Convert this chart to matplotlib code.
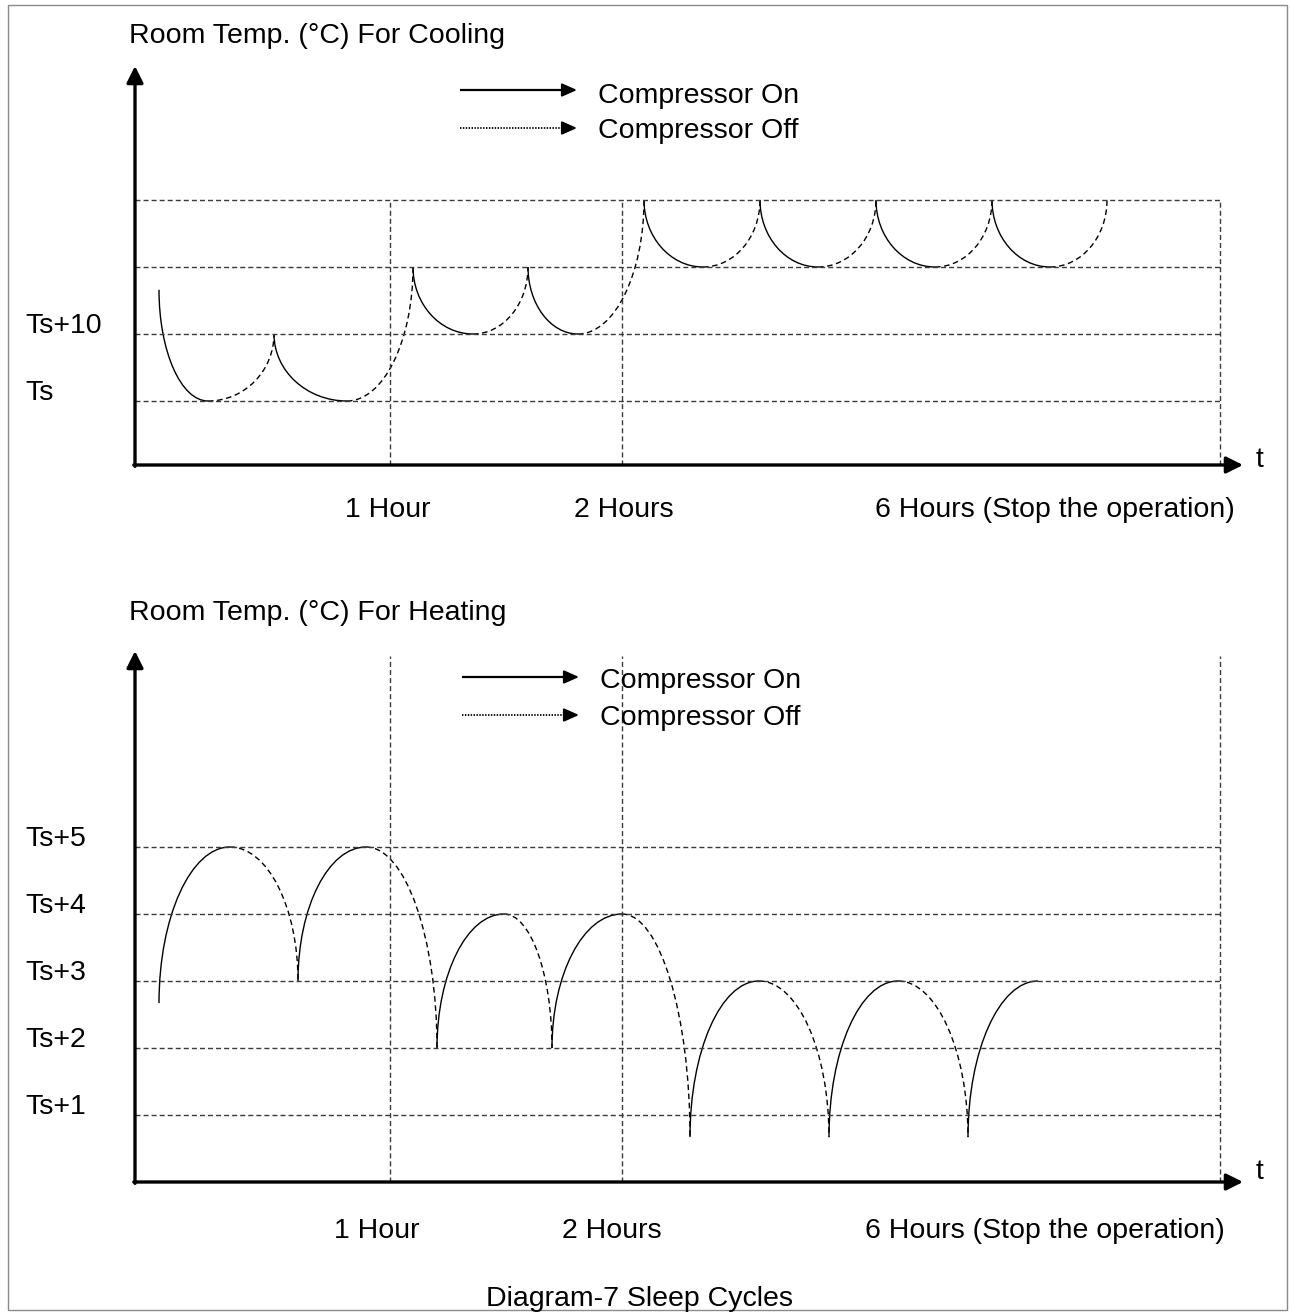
import matplotlib
matplotlib.use("Agg")
import matplotlib.pyplot as plt
from matplotlib.path import Path
from matplotlib.patches import PathPatch, Rectangle

plt.rcParams['font.family'] = ['Liberation Sans', 'DejaVu Sans']

# ---------------- data ----------------
# time axis in schematic units (0 = origin of the time axis)
hour_t = [255, 487, 1085]
hour_labels = ["1 Hour", "2 Hours", "6 Hours (Stop the operation)"]

# cooling: temperature levels (Ts = 0)
cool_levels = [0, 1, 2, 3]
cool_level_labels = ["Ts", "Ts+10", "", ""]
cool_t = [24, 73, 139, 212, 278, 338, 393, 443, 509, 568, 625, 683, 741, 800, 857, 915, 972]
cool_v = [1.66, 0, 1, 0, 2, 1, 2, 1, 3, 2, 3, 2, 3, 2, 3, 2, 3]

# heating: temperature levels (Ts = 0)
heat_levels = [1, 2, 3, 4, 5]
heat_level_labels = ["Ts+1", "Ts+2", "Ts+3", "Ts+4", "Ts+5"]
heat_t = [24, 95, 163, 231, 302, 369, 417, 487, 555, 624, 694, 763, 833, 903]
heat_v = [2.67, 5, 3, 5, 2, 4, 2, 4, 0.67, 3, 0.67, 3, 0.67, 3]

legend_labels = ["Compressor On", "Compressor Off"]

# ---------------- layout ----------------
W, H = 1290, 1314
fig = plt.figure(figsize=(W / 100, H / 100), dpi=100)
FS = 20.5
GRID = dict(colors='#3a3a3a', lw=1.0, linestyles=(0, (3.6, 2.2)))
DASH = (0, (4.0, 2.6))

fig.patches.append(Rectangle((8 / W, 1 - 1310 / H), (1287 - 8) / W, (1310 - 5) / H,
                             transform=fig.transFigure, fill=False, ec='#8a8a8a', lw=1.0))


def make_axes(px_top, px_bot, y_of):
    ax = fig.add_axes([135 / W, 1 - px_bot / H, (1250 - 135) / W, (px_bot - px_top) / H])
    ax.set_xlim(0, 1115)
    ax.set_ylim(y_of(px_bot), y_of(px_top))
    ax.axis('off')
    return ax


def seg_path(t0, v0, t1, v1, vert_start):
    k = 0.5523
    if vert_start:
        c1 = (t0, v0 + k * (v1 - v0))
        c2 = (t1 - k * (t1 - t0), v1)
    else:
        c1 = (t0 + k * (t1 - t0), v0)
        c2 = (t1, v1 - k * (v1 - v0))
    return Path([(t0, v0), c1, c2, (t1, v1)],
                [Path.MOVETO, Path.CURVE4, Path.CURVE4, Path.CURVE4])


def draw_curve(ax, ts, vs, cooling):
    for i in range(len(ts) - 1):
        t0, v0, t1, v1 = ts[i], vs[i], ts[i + 1], vs[i + 1]
        vert_start = (v0 > v1) if cooling else (v0 < v1)
        ls = '-' if i % 2 == 0 else DASH
        ax.add_patch(PathPatch(seg_path(t0, v0, t1, v1, vert_start), fill=False,
                               ec='black', lw=1.0, ls=ls, capstyle='butt'))


def axis_arrows(ax, y0, ytip, xtip):
    ap = dict(arrowstyle='-|>,head_length=0.5,head_width=0.25', lw=2.4, color='black',
              mutation_scale=20, shrinkA=0, shrinkB=0)
    ax.annotate('', xy=(0, ytip), xytext=(0, y0 - 0.02), arrowprops=ap, annotation_clip=False)
    ax.annotate('', xy=(xtip, y0), xytext=(-1.2, y0), arrowprops=ap, annotation_clip=False)


def legend(ax, x0, x1, y_on, y_off):
    ap = dict(arrowstyle='-|>,head_length=0.45,head_width=0.2', lw=1.5, color='black',
              mutation_scale=20, shrinkA=0, shrinkB=0)
    ax.plot([x0, x1 - 10], [y_on, y_on], color='black', lw=1.6, solid_capstyle='butt')
    ax.annotate('', xy=(x1 + 2, y_on), xytext=(x1 - 12, y_on), arrowprops=ap)
    ax.plot([x0, x1 - 10], [y_off, y_off], color='black', lw=1.3, ls=(0, (0.8, 0.8)))
    ax.annotate('', xy=(x1 + 2, y_off), xytext=(x1 - 12, y_off), arrowprops=ap)


def ftext(px, py, s, ha='left'):
    fig.text(px / W, 1 - py / H, s, ha=ha, va='baseline', fontsize=FS)


# ---------------- cooling ----------------
y_cool = lambda py: (401 - py) / 67.0
ax1 = make_axes(55, 470, y_cool)
ax1.hlines(cool_levels, 0, hour_t[-1], **GRID)
ax1.vlines(hour_t, y_cool(465), cool_levels[-1], **GRID)
draw_curve(ax1, cool_t, cool_v, cooling=True)
axis_arrows(ax1, y_cool(465), y_cool(66), 1108)
legend(ax1, 325, 440, y_cool(90), y_cool(128))
for lv, lab in zip(cool_levels, cool_level_labels):
    if lab:
        ax1.text(-110, lv + 0.02, lab, ha='left', va='baseline', fontsize=FS, clip_on=False)

ftext(129, 43, "Room Temp. (°C) For Cooling")
ftext(598, 103, legend_labels[0])
ftext(598, 138, legend_labels[1])
ftext(1256, 467, "t")
for px, lab in zip([388, 624, 1055], hour_labels):
    ftext(px, 517, lab, ha='center')

# ---------------- heating ----------------
y_heat = lambda py: 1 + (1115 - py) / 67.0
ax2 = make_axes(640, 1187, y_heat)
ax2.hlines(heat_levels, 0, hour_t[-1], **GRID)
ax2.vlines(hour_t, y_heat(1182), y_heat(656), **GRID)
draw_curve(ax2, heat_t, heat_v, cooling=False)
axis_arrows(ax2, y_heat(1182), y_heat(651), 1108)
legend(ax2, 327, 442, y_heat(677), y_heat(715))
for lv, lab in zip(heat_levels, heat_level_labels):
    ax2.text(-110, lv + 0.02, lab, ha='left', va='baseline', fontsize=FS, clip_on=False)

ftext(129, 620, "Room Temp. (°C) For Heating")
ftext(600, 688, legend_labels[0])
ftext(600, 725, legend_labels[1])
ftext(1256, 1179, "t")
for px, lab in zip([377, 612, 1045], hour_labels):
    ftext(px, 1238, lab, ha='center')

ftext(640, 1306, "Diagram-7 Sleep Cycles", ha='center')

fig.savefig("out.png", dpi=100)
